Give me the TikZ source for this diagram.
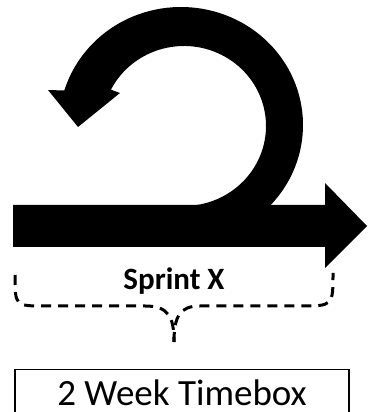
\documentclass[tikz,border=0pt]{standalone}
\usepackage{fontspec}
\setmainfont{Carlito}
\usetikzlibrary{calc}
\usetikzlibrary{positioning}

\begin{document}
\begin{tikzpicture}[x=1pt,y=1pt,
    brace line/.style={line width=3pt,dash pattern=on 10pt off 7pt},
    timebox/.style={draw,line width=1.2pt,inner sep=0pt,minimum width=334pt,text height=36pt,text depth=9pt,font=\fontsize{37}{42}\selectfont}]
  \useasboundingbox (0,0) rectangle (367,412);
  \coordinate (outer c) at (181,287);
  \coordinate (inner c) at (184,286);
  % straight arrow
  \fill (13,165) -- (325,165) -- (325,144) -- (367,186) -- (325,229) -- (325,207) -- (13,207) -- cycle;
  % loop back
  \fill ($(outer c)+(-44:122pt and 118pt)$) arc[start angle=-44,end angle=163,x radius=122pt,y radius=118pt]
    -- (48,322) -- (78,285) -- (120,319)
    -- ($(inner c)+(153:82pt and 80pt)$) arc[start angle=153,end angle=-90,x radius=82pt,y radius=80pt] -- cycle;
  % brace
  \coordinate (brace l) at (15,137);
  \coordinate (brace tip) at (174,70);
  \coordinate (brace r) at (333,139);
  \draw[brace line] (brace l) .. controls (15,106) .. (45,106) -- (145,106)
    .. controls (168,106) and (174,96) .. (brace tip);
  \draw[brace line] (brace tip) .. controls (174,96) and (180,106) .. (200,106) -- (300,106)
    .. controls (333,106) .. (brace r);
  \node[anchor=base,font=\fontsize{31}{36}\selectfont\bfseries] (sprint) at (174,122) {Sprint X};
  \node[timebox,anchor=north] (timebox) at (182,43) {2 Week Timebox};
\end{tikzpicture}
\end{document}
